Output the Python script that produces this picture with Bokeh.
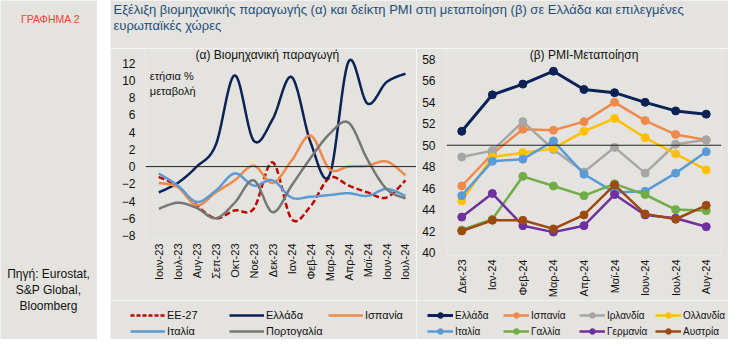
import math
import numpy as np
from bokeh.plotting import figure
from bokeh.models import Span, Label, Legend, LegendItem, FixedTicker, Range1d, Spacer
from bokeh.layouts import row, column
from bokeh.embed import file_html
from bokeh.resources import INLINE

# ---------------- data ----------------
months_l = ["Ιουν-23", "Ιουλ-23", "Αυγ-23", "Σεπ-23", "Οκτ-23", "Νοε-23", "Δεκ-23",
            "Ιαν-24", "Φεβ-24", "Μαρ-24", "Απρ-24", "Μαϊ-24", "Ιουν-24", "Ιουλ-24"]
ip_eu27 = [-1.2, -2.3, -4.5, -6.0, -5.1, -4.9, 0.5, -6.1, -4.6, -1.3, -2.2, -3.0, -3.6, -1.6]
ip_greece = [-3.0, -1.9, 0.0, 2.5, 10.6, 3.0, 5.5, 10.4, 2.8, -1.0, 12.2, 7.3, 9.8, 10.8]
ip_spain = [-1.9, -2.4, -4.5, -3.0, -1.6, 0.1, -1.9, 0.7, 3.6, -0.3, 0.0, 0.1, 0.6, -1.0]
ip_italy = [-0.8, -2.2, -4.1, -2.8, -0.8, -2.2, -1.6, -3.6, -3.5, -3.3, -3.1, -3.4, -2.6, -3.4]
ip_portugal = [-4.9, -4.2, -4.8, -6.0, -4.2, -1.6, -5.3, -2.2, 1.0, 3.8, 5.1, 0.8, -2.6, -3.7]
ip_ticks = [-8, -6, -4, -2, 0, 2, 4, 6, 8, 10, 12]

months_r = ["Δεκ-23", "Ιαν-24", "Φεβ-24", "Μαρ-24", "Απρ-24", "Μαϊ-24", "Ιουν-24", "Ιουλ-24", "Αυγ-24"]
pmi_greece = [51.3, 54.7, 55.7, 56.9, 55.2, 54.9, 54.0, 53.2, 52.9]
pmi_spain = [46.2, 49.2, 51.5, 51.4, 52.2, 54.0, 52.3, 51.0, 50.5]
pmi_ireland = [48.9, 49.5, 52.2, 49.6, 47.5, 49.8, 47.4, 50.1, 50.5]
pmi_netherlands = [44.8, 48.9, 49.3, 49.7, 51.3, 52.5, 50.7, 49.2, 47.7]
pmi_italy = [45.3, 48.5, 48.7, 50.4, 47.3, 45.6, 45.7, 47.4, 49.4]
pmi_france = [42.1, 43.1, 47.1, 46.2, 45.3, 46.4, 45.4, 44.0, 43.9]
pmi_germany = [43.3, 45.5, 42.5, 41.9, 42.5, 45.4, 43.5, 43.2, 42.4]
pmi_austria = [42.0, 43.0, 43.0, 42.2, 43.5, 46.3, 43.6, 43.1, 44.4]
pmi_ticks = [40, 42, 44, 46, 48, 50, 52, 54, 56, 58]

# ---------------- style ----------------
BG = "#e4e3df"
FONT = "Liberation Sans"
NAVY = "#0b2257"
ORANGE = "#f08a4b"
RED = "#c00000"
LBLUE = "#5b9bd5"
DGRAY = "#777777"
LGRAY = "#a6a6a6"
YELLOW = "#ffc000"
GREEN = "#70ad47"
PURPLE = "#7030a0"
BROWN = "#9c4a12"


def smooth(xs, ys, n=14):
    """Excel-like smoothed line (Catmull-Rom Bezier) for drawing."""
    P = np.column_stack([np.asarray(xs, float), np.asarray(ys, float)])
    out = []
    m = len(P)
    for i in range(m - 1):
        p0 = P[i - 1] if i > 0 else P[i]
        p1, p2 = P[i], P[i + 1]
        p3 = P[i + 2] if i + 2 < m else P[i + 1]
        c1 = p1 + (p2 - p0) / 6.0
        c2 = p2 - (p3 - p1) / 6.0
        ts = np.linspace(0, 1, n, endpoint=(i == m - 2))
        for t in ts:
            b = ((1 - t) ** 3) * p1 + 3 * ((1 - t) ** 2) * t * c1 + 3 * (1 - t) * t * t * c2 + (t ** 3) * p2
            out.append(b)
    out = np.array(out)
    return out[:, 0], out[:, 1]


def no_align(p):
    try:
        p.frame_align = False
    except Exception:
        pass


def plain_fig(w, h, xr, yr):
    p = figure(width=w, height=h, output_backend="svg", toolbar_location=None,
               x_range=Range1d(*xr), y_range=Range1d(*yr),
               x_axis_type=None, y_axis_type=None,
               min_border_left=0, min_border_right=0, min_border_top=0, min_border_bottom=0)
    p.background_fill_color = BG
    p.border_fill_color = BG
    p.outline_line_color = None
    p.xgrid.visible = False
    p.ygrid.visible = False
    no_align(p)
    return p


def style_axes(p, ysize="12px", xsize="11px", ystand=10, xstand=4):
    for ax in p.xaxis + p.yaxis:
        ax.axis_line_color = None
        ax.major_tick_line_color = None
        ax.minor_tick_line_color = None
        ax.major_tick_out = 0
        ax.major_tick_in = 0
        ax.minor_tick_out = 0
        ax.minor_tick_in = 0
        ax.major_label_text_font = FONT
        ax.major_label_text_color = "#111111"
    for ax in p.yaxis:
        ax.major_label_text_font_size = ysize
        ax.major_label_standoff = ystand
    for ax in p.xaxis:
        ax.major_label_text_font_size = xsize
        ax.major_label_standoff = xstand
        ax.major_label_orientation = math.pi / 2


# ---------------- sidebar ----------------
side = plain_fig(97, 339, (0, 97), (0, 339))
side.add_layout(Label(x=50, y=321, text="ΓΡΑΦΗΜΑ 2", text_align="center", text_baseline="middle",
                      text_font=FONT, text_font_size="10.5px", text_color="#e8452f"))
for txt, yy in [("Πηγή: Eurostat,", 66), ("S&P Global,", 50), ("Bloomberg", 34)]:
    side.add_layout(Label(x=48, y=yy, text=txt, text_align="center", text_baseline="middle",
                          text_font=FONT, text_font_size="12px", text_color="#111111"))

gap = Spacer(width=13, height=339)

# ---------------- title ----------------
tfig = plain_fig(618, 48, (0, 618), (0, 48))
title_color = "#1f4e79"
tfig.add_layout(Label(x=3, y=39, text="Εξέλιξη βιομηχανικής παραγωγής (α) και δείκτη  PMI στη μεταποίηση (β) σε Ελλάδα και επιλεγμένες",
                      text_baseline="middle", text_font=FONT, text_font_size="13px", text_color=title_color))
tfig.add_layout(Label(x=3, y=23, text="ευρωπαϊκές χώρες",
                      text_baseline="middle", text_font=FONT, text_font_size="13px", text_color=title_color))

# ---------------- left chart ----------------
xl = list(range(len(months_l)))
left = figure(width=306, height=252, output_backend="svg", toolbar_location=None,
              x_range=Range1d(-0.70, 13.58), y_range=Range1d(-8.35, 13.71),
              min_border_left=35, min_border_right=0, min_border_top=0, min_border_bottom=62)
no_align(left)
left.background_fill_color = BG
left.border_fill_color = BG
left.outline_line_color = None
left.xgrid.visible = False
left.ygrid.visible = False
left.xaxis.ticker = FixedTicker(ticks=xl)
left.xaxis.major_label_overrides = {i: m for i, m in enumerate(months_l)}
left.yaxis.ticker = FixedTicker(ticks=ip_ticks)
style_axes(left, ystand=10, xstand=5)
left.add_layout(Span(location=0, dimension="width", line_color="#222222", line_width=1))

for ys, col, dash in [(ip_eu27, RED, "6 3"), (ip_greece, NAVY, "solid"), (ip_spain, ORANGE, "solid"),
                      (ip_italy, LBLUE, "solid"), (ip_portugal, DGRAY, "solid")]:
    sx, sy = smooth(xl, ys)
    left.line(sx, sy, line_color=col, line_width=2.5, line_dash=dash)

left.add_layout(Label(x=5.72, y=13.0, text="(α) Βιομηχανική παραγωγή", text_align="center",
                      text_baseline="middle", text_font=FONT, text_font_size="12px", text_color="#111111"))
left.add_layout(Label(x=-0.47, y=10.57, text="ετήσια %", text_baseline="middle",
                      text_font=FONT, text_font_size="11px", text_color="#111111"))
left.add_layout(Label(x=-0.47, y=8.83, text="μεταβολή", text_baseline="middle",
                      text_font=FONT, text_font_size="11px", text_color="#111111"))

# ---------------- right chart ----------------
xr = list(range(len(months_r)))
right = figure(width=312, height=252, output_backend="svg", toolbar_location=None,
               x_range=Range1d(-0.5, 8.5), y_range=Range1d(39.72, 59.02),
               min_border_left=30, min_border_right=7, min_border_top=0, min_border_bottom=44)
no_align(right)
right.background_fill_color = BG
right.border_fill_color = BG
right.outline_line_color = None
right.xgrid.visible = False
right.ygrid.visible = False
right.xaxis.ticker = FixedTicker(ticks=xr)
right.xaxis.major_label_overrides = {i: m for i, m in enumerate(months_r)}
right.yaxis.ticker = FixedTicker(ticks=pmi_ticks)
style_axes(right, ystand=11, xstand=4)
right.add_layout(Span(location=50, dimension="width", line_color="#222222", line_width=1))

pmi_series = [(pmi_greece, NAVY, 3), (pmi_spain, ORANGE, 2.5), (pmi_ireland, LGRAY, 2.5),
              (pmi_netherlands, YELLOW, 2.5), (pmi_italy, LBLUE, 2.5), (pmi_france, GREEN, 2.5),
              (pmi_germany, PURPLE, 2.5), (pmi_austria, BROWN, 2.5)]
for ys, col, lw in pmi_series:
    right.line(xr, ys, line_color=col, line_width=lw)
    right.scatter(xr, ys, size=8, marker="circle", fill_color=col, line_color=col)

right.add_layout(Label(x=4.0, y=58.37, text="(β) PMI-Μεταποίηση", text_align="center",
                       text_baseline="middle", text_font=FONT, text_font_size="12px", text_color="#111111"))

# ---------------- legends ----------------
nan = [float("nan")]


def legend_row(p, items, loc, gw, lw, fs):
    lg = Legend(items=items, orientation="horizontal", location=loc,
                glyph_width=gw, glyph_height=14, label_height=14, label_width=lw,
                label_standoff=2, spacing=3, padding=0, margin=0,
                border_line_color=None, background_fill_alpha=0,
                label_text_font=FONT, label_text_font_size=fs, label_text_color="#111111")
    p.add_layout(lg)


legl = plain_fig(306, 39, (0, 306), (0, 39))


def lline(p, col, dash="solid", lw=2.5):
    return p.line(nan, nan, line_color=col, line_width=lw, line_dash=dash)


r_eu = lline(legl, RED, "4 2")
r_gr = lline(legl, NAVY)
r_es = lline(legl, ORANGE)
r_it = lline(legl, LBLUE)
r_pt = lline(legl, DGRAY)
legend_row(legl, [LegendItem(label="EE-27", renderers=[r_eu]),
                  LegendItem(label="Ελλάδα", renderers=[r_gr]),
                  LegendItem(label="Ισπανία", renderers=[r_es])], (20, 17), 35, 59, "11px")
legend_row(legl, [LegendItem(label="Ιταλία", renderers=[r_it]),
                  LegendItem(label="Πορτογαλία", renderers=[r_pt])], (20, 1), 35, 59, "11px")

legr = plain_fig(312, 39, (0, 312), (0, 39))


def lmark(p, col, lw=2.5):
    a = p.line(nan, nan, line_color=col, line_width=lw)
    b = p.scatter(nan, nan, size=8, marker="circle", fill_color=col, line_color=col)
    return [a, b]


names_r = ["Ελλάδα", "Ισπανία", "Ιρλανδία", "Ολλανδία", "Ιταλία", "Γαλλία", "Γερμανία", "Αυστρία"]
rr = [lmark(legr, c, lw) for (_, c, lw) in pmi_series]
legend_row(legr, [LegendItem(label=names_r[i], renderers=rr[i]) for i in range(4)], (11, 17), 26, 45, "10px")
legend_row(legr, [LegendItem(label=names_r[i], renderers=rr[i]) for i in range(4, 8)], (11, 1), 26, 45, "10px")

main = column(tfig, row(left, right), row(legl, legr))
layout = row(side, gap, main)

open("out.html", "w").write(file_html(layout, INLINE))
